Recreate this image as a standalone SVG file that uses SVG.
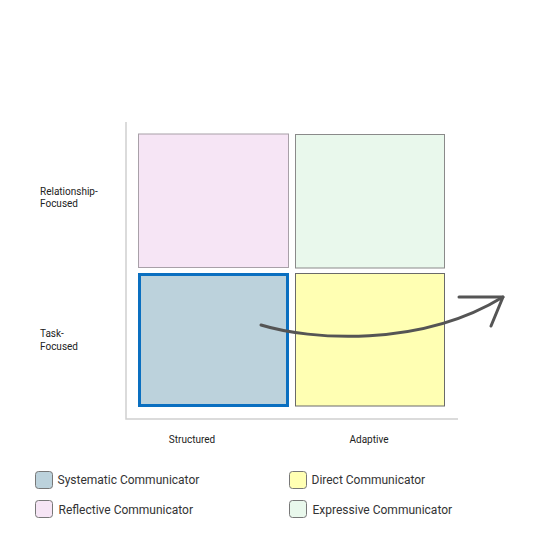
<svg xmlns="http://www.w3.org/2000/svg" width="545" height="545" viewBox="0 0 545 545">
<style>
text{font-family:Roboto,"Liberation Sans",sans-serif;fill:#222}
.ax{font-size:10px}
.lg{font-size:12px;fill:#333}
.axis{stroke:#d0d0d0;stroke-width:1.5;fill:none}
.sw{stroke:#777;stroke-width:1}
</style>
<rect width="545" height="545" fill="#fff"/>
<g id="axes">
<path class="axis" d="M126,122 V419 H458"/>
</g>
<g id="reflective"><rect x="138.5" y="134" width="150" height="133.5" fill="#f6e5f5" stroke="#a8a0a8" stroke-width="1"/></g>
<g id="expressive"><rect x="295.5" y="134.5" width="149" height="133.5" fill="#e9f8ec" stroke="#8a8a8a" stroke-width="1"/></g>
<g id="systematic"><rect x="139.5" y="274.5" width="148" height="131" fill="#bcd2dc" stroke="#0a6fc0" stroke-width="3"/></g>
<g id="direct"><rect x="295.5" y="273.5" width="149" height="132.5" fill="#ffffb3" stroke="#6a6a6a" stroke-width="1"/></g>
<g id="connectors" fill="none" stroke="#555" stroke-width="3" stroke-linecap="round" stroke-linejoin="round">
<path d="M261,325 C310,340 420,348 503,297"/>
<path d="M459,297 L503,297 L491,326"/>
</g>
<g id="labels">
<text class="ax" x="40" y="195">Relationship-</text>
<text class="ax" x="40" y="207">Focused</text>
<text class="ax" x="40" y="337">Task-</text>
<text class="ax" x="40" y="350">Focused</text>
<text class="ax" x="192" y="443" text-anchor="middle">Structured</text>
<text class="ax" x="369" y="443" text-anchor="middle">Adaptive</text>
</g>
<g id="legend">
<rect class="sw" x="35.5" y="471.5" width="17" height="17" rx="3" fill="#bcd2dc"/>
<text class="lg" x="57.5" y="484">Systematic Communicator</text>
<rect class="sw" x="35.5" y="500.5" width="17" height="17" rx="3" fill="#f6e5f5"/>
<text class="lg" x="58.5" y="514">Reflective Communicator</text>
<rect class="sw" x="289.5" y="471.5" width="17" height="17" rx="3" fill="#ffffb3"/>
<text class="lg" x="311.5" y="484">Direct Communicator</text>
<rect class="sw" x="289.5" y="500.5" width="17" height="17" rx="3" fill="#e9f8ec"/>
<text class="lg" x="312.5" y="514">Expressive Communicator</text>
</g>
</svg>
